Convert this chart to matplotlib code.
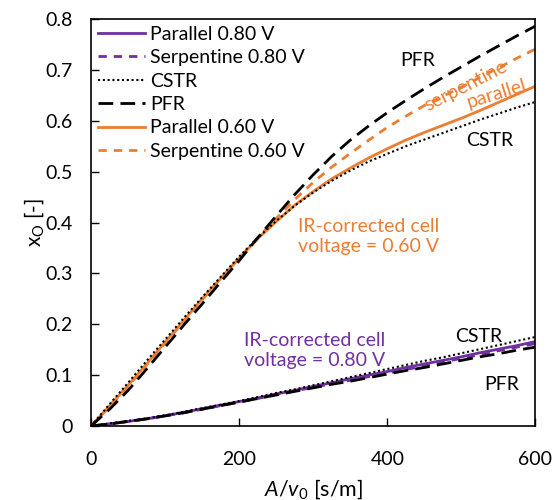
import matplotlib
matplotlib.use("Agg")
import matplotlib.pyplot as plt

plt.rcParams['font.family'] = ['Lato', 'DejaVu Sans']
plt.rcParams['mathtext.fontset'] = 'custom'
plt.rcParams['mathtext.rm'] = 'Lato'
plt.rcParams['mathtext.it'] = 'Lato:italic'

PURPLE = '#7030A0'
ORANGE = '#ED7D31'

# area-to-flow ratio A/v0 [s/m]
a_v0 = [0, 25, 50, 75, 100, 125, 150, 175, 200, 225, 250, 275, 300,
        325, 350, 375, 400, 425, 450, 475, 500, 525, 550, 575, 600]

# IR-corrected cell voltage 0.80 V
par_080 = [0, 0.004, 0.009, 0.014, 0.020, 0.027, 0.034, 0.041, 0.048, 0.055, 0.063, 0.070, 0.078,
           0.085, 0.093, 0.100, 0.107, 0.115, 0.122, 0.129, 0.136, 0.144, 0.151, 0.158, 0.166]
serp_080 = [0, 0.004, 0.009, 0.014, 0.020, 0.026, 0.033, 0.040, 0.047, 0.054, 0.062, 0.069, 0.076,
            0.083, 0.090, 0.097, 0.104, 0.111, 0.118, 0.126, 0.133, 0.140, 0.148, 0.155, 0.162]
cstr_080 = [0, 0.005, 0.010, 0.015, 0.021, 0.028, 0.035, 0.042, 0.049, 0.057, 0.065, 0.072, 0.080,
            0.088, 0.096, 0.104, 0.112, 0.120, 0.128, 0.135, 0.143, 0.151, 0.159, 0.167, 0.175]
pfr_080 = [0, 0.004, 0.009, 0.014, 0.020, 0.026, 0.033, 0.040, 0.047, 0.054, 0.061, 0.068, 0.075,
           0.082, 0.088, 0.095, 0.102, 0.109, 0.115, 0.122, 0.129, 0.136, 0.142, 0.149, 0.155]

# IR-corrected cell voltage 0.60 V
par_060 = [0, 0.040, 0.080, 0.122, 0.165, 0.207, 0.250, 0.290, 0.330, 0.368, 0.402, 0.434, 0.461,
           0.486, 0.507, 0.527, 0.545, 0.562, 0.577, 0.591, 0.605, 0.620, 0.636, 0.652, 0.668]
serp_060 = [0, 0.038, 0.078, 0.120, 0.163, 0.205, 0.248, 0.290, 0.330, 0.370, 0.408, 0.445, 0.479,
            0.509, 0.536, 0.562, 0.587, 0.609, 0.630, 0.648, 0.666, 0.685, 0.704, 0.723, 0.741]
cstr_060 = [0, 0.043, 0.085, 0.128, 0.170, 0.212, 0.253, 0.293, 0.333, 0.370, 0.403, 0.433, 0.459,
            0.482, 0.502, 0.520, 0.535, 0.550, 0.563, 0.576, 0.589, 0.602, 0.614, 0.626, 0.637]
pfr_060 = [0, 0.033, 0.070, 0.112, 0.155, 0.198, 0.240, 0.283, 0.325, 0.370, 0.413, 0.455, 0.494,
           0.530, 0.562, 0.590, 0.616, 0.640, 0.663, 0.685, 0.706, 0.727, 0.747, 0.767, 0.786]

fig = plt.figure(figsize=(5.52, 5.0), dpi=100)
ax = fig.add_axes([0.165, 0.148, 0.805, 0.814])

dash_long = (0, (5.3, 2.6))
dash_short = (0, (3, 2.5))
dots = (0, (1, 1.3))

l1, = ax.plot(a_v0, par_080, color=PURPLE, lw=2, label='Parallel 0.80 V')
l2, = ax.plot(a_v0, serp_080, color=PURPLE, lw=2, ls=dash_short, label='Serpentine 0.80 V')
l3, = ax.plot(a_v0, cstr_080, color='black', lw=1.5, ls=dots, label='CSTR')
l4, = ax.plot(a_v0, pfr_080, color='black', lw=2, ls=dash_long, label='PFR')
l5, = ax.plot(a_v0, par_060, color=ORANGE, lw=2, label='Parallel 0.60 V')
l6, = ax.plot(a_v0, serp_060, color=ORANGE, lw=2, ls=dash_short, label='Serpentine 0.60 V')
ax.plot(a_v0, cstr_060, color='black', lw=1.5, ls=dots)
ax.plot(a_v0, pfr_060, color='black', lw=2, ls=dash_long)

ax.set_xlim(0, 600)
ax.set_ylim(0, 0.8)
ax.set_xticks([0, 200, 400, 600])
ax.set_yticks([0, 0.1, 0.2, 0.3, 0.4, 0.5, 0.6, 0.7, 0.8])
ax.set_yticklabels(['0', '0.1', '0.2', '0.3', '0.4', '0.5', '0.6', '0.7', '0.8'])
ax.tick_params(direction='in', length=6, width=1, labelsize=14)
ax.tick_params(axis='x', pad=18)
ax.tick_params(axis='y', pad=13)
for s in ax.spines.values():
    s.set_linewidth(1.2)

ax.set_xlabel('$A$/$v$$_\\mathrm{0}$ [s/m]', fontsize=15.5, labelpad=7)
ax.set_ylabel('x$_\\mathrm{O}$ [-]', fontsize=15, labelpad=0)

ax.legend(handles=[l1, l2, l3, l4, l5, l6], loc='upper left', frameon=False,
          fontsize=14, handlelength=2.4, handletextpad=0.3, labelspacing=0.33,
          borderaxespad=0.15, borderpad=0.2)

# curve labels
ax.text(441, 0.719, 'PFR', fontsize=14, ha='center', va='center')
ax.text(506, 0.669, 'serpentine', fontsize=14, color=ORANGE, ha='center', va='center', rotation=27)
ax.text(548, 0.652, 'parallel', fontsize=14, color=ORANGE, ha='center', va='center', rotation=17)
ax.text(538, 0.562, 'CSTR', fontsize=14, ha='center', va='center')
ax.text(279, 0.373, 'IR-corrected cell\nvoltage = 0.60 V', fontsize=14, color=ORANGE,
        ha='left', va='center', linespacing=1.2)
ax.text(207, 0.149, 'IR-corrected cell\nvoltage = 0.80 V', fontsize=14, color=PURPLE,
        ha='left', va='center', linespacing=1.2)
ax.text(524, 0.176, 'CSTR', fontsize=14, ha='center', va='center')
ax.text(554, 0.081, 'PFR', fontsize=14, ha='center', va='center')

fig.savefig('out.png', dpi=100)
